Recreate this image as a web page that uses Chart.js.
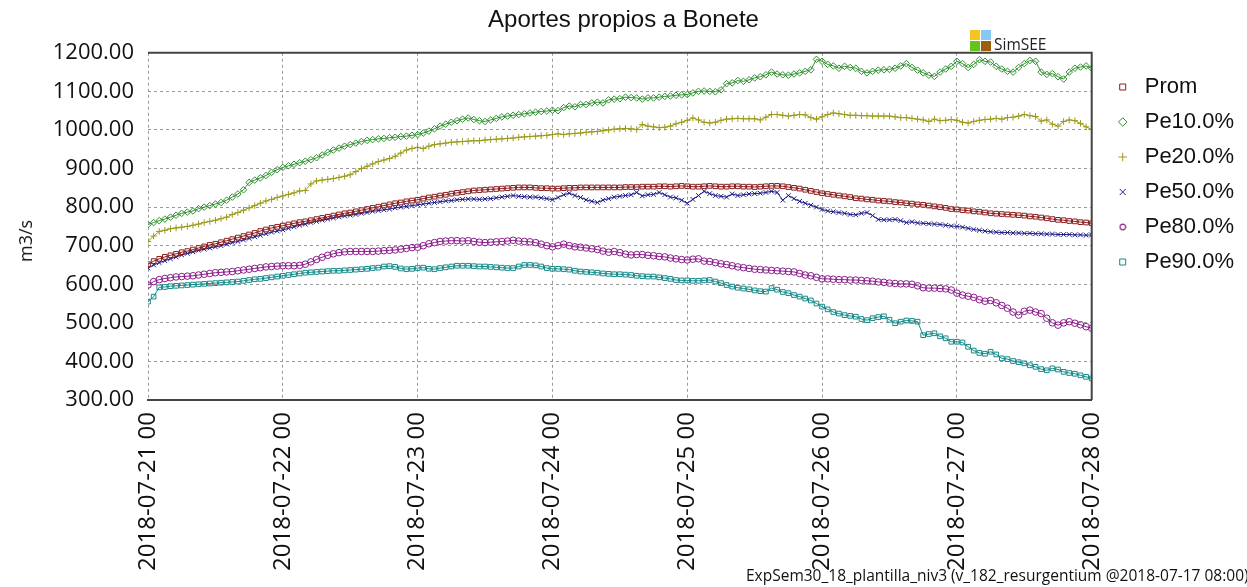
<!DOCTYPE html>
<html lang="es">
<head>
<meta charset="UTF-8">
<title>Aportes propios a Bonete</title>
<script src="https://cdn.jsdelivr.net/npm/chart.js"></script>
<style>
  html, body { margin: 0; padding: 0; background: #fff; overflow: hidden; }
  .wrap { position: relative; width: 1247px; height: 587px; font-family: 'Open Sans', sans-serif; overflow: hidden; }
  canvas { position: absolute; left: 0; top: 0; }
  .sq { position: absolute; width: 10px; height: 10px; }
  .brand { position: absolute; left: 994px; top: 34px; font-size: 15.5px; line-height: 20px; color: #222; }
  .ytitle { position: absolute; left: 25px; top: 241px; font-size: 18px; line-height: 22px; color: #111;
            white-space: nowrap; transform: translate(-50%, -50%) rotate(-90deg); }
  .footer { position: absolute; left: 746px; top: 565px; font-size: 15.5px; line-height: 20px; white-space: nowrap; color: #111; }
</style>
</head>
<body>
<div class="wrap">
  <canvas id="chart" width="1247" height="587"></canvas>
  <div class="sq" style="left:970px;top:30px;background:#f7c520"></div>
  <div class="sq" style="left:981px;top:30px;background:#86c8f2"></div>
  <div class="sq" style="left:970px;top:41px;background:#64c41c"></div>
  <div class="sq" style="left:981px;top:41px;background:#9a5e0e"></div>
  <div class="brand">SimSEE</div>
  <div class="ytitle">m3/s</div>
  <div class="footer">ExpSem30_18_plantilla_niv3 (v_182_resurgentium @2018-07-17 08:00)</div>
</div>
<script>
// tick labels of the time axis (one per day, data is hourly)
const DAY_LABELS = ['2018-07-21 00', '2018-07-22 00', '2018-07-23 00', '2018-07-24 00',
  '2018-07-25 00', '2018-07-26 00', '2018-07-27 00', '2018-07-28 00'];

const SERIES_NAMES = ['Prom', 'Pe10.0%', 'Pe20.0%', 'Pe50.0%', 'Pe80.0%', 'Pe90.0%'];

// hourly values, m3/s
const PROM = [
  652, 660, 666, 671, 675, 679, 683, 686, 690, 694, 698, 702,
  705, 709, 713, 717, 721, 725, 729, 733, 738, 742, 746, 749,
  752, 755, 758, 761, 763, 766, 769, 772, 775, 778, 781, 784,
  786, 789, 792, 795, 798, 801, 804, 807, 810, 812, 815, 817,
  819, 822, 825, 827, 830, 832, 835, 837, 839, 841, 843, 844,
  845, 846, 847, 848, 849, 850, 851, 851, 851, 850, 849, 849,
  848, 848, 849, 850, 850, 851, 851, 851, 851, 851, 851, 851,
  851, 852, 852, 852, 853, 853, 853, 854, 854, 853, 854, 855,
  854, 853, 853, 854, 855, 854, 853, 853, 854, 854, 853, 853,
  852, 853, 854, 855, 855, 854, 852, 850, 848, 845, 842, 839,
  836, 834, 832, 830, 828, 826, 823, 822, 820, 819, 817, 816,
  815, 813, 812, 810, 809, 807, 806, 804, 802, 800, 798, 795,
  794, 792, 791, 789, 788, 786, 784, 783, 782, 781, 780, 779,
  778, 776, 775, 773, 771, 769, 767, 766, 764, 763, 761, 760,
  758
];
const PE10 = [
  755, 760, 765, 769, 774, 779, 784, 787, 790, 796, 800, 804,
  808, 812, 818, 826, 834, 845, 864, 870, 876, 882, 890, 897,
  903, 907, 911, 915, 919, 923, 928, 935, 942, 948, 953, 958,
  962, 966, 970, 973, 975, 977, 978, 980, 981, 983, 984, 986,
  988, 992, 997, 1003, 1010, 1015, 1020, 1024, 1028, 1031, 1027, 1024,
  1022, 1026, 1030, 1034, 1036, 1038, 1040, 1042, 1044, 1046, 1048, 1049,
  1051, 1050, 1058, 1062, 1060, 1066, 1066, 1070, 1072, 1070, 1078, 1080,
  1081, 1085, 1084, 1083, 1080, 1083, 1083, 1085, 1087, 1088, 1090, 1091,
  1092, 1096, 1100, 1101, 1100, 1099, 1104, 1120, 1122, 1128, 1126, 1130,
  1135, 1138, 1143, 1150, 1145, 1143, 1142, 1145, 1148, 1152, 1156, 1183,
  1178, 1170, 1166, 1160, 1165, 1162, 1160, 1152, 1148, 1152, 1155, 1156,
  1157, 1160, 1166, 1172, 1162, 1155, 1148, 1142, 1139, 1150, 1158, 1165,
  1178, 1172, 1162, 1170, 1182, 1178, 1176, 1165, 1158, 1152, 1150, 1162,
  1172, 1180, 1178, 1150, 1144, 1146, 1138, 1132, 1150, 1160, 1163, 1166,
  1160
];
const PE20 = [
  711, 725, 737, 740, 744, 746, 748, 750, 753, 756, 760, 763,
  766, 770, 774, 781, 786, 792, 798, 804, 810, 816, 820, 825,
  829, 833, 837, 842, 843, 860, 868, 870, 872, 874, 877, 880,
  884, 892, 900, 906, 912, 918, 922, 926, 932, 940, 948, 952,
  955, 952, 958, 962, 964, 966, 968, 969, 970, 971, 972, 972,
  974, 975, 976, 977, 978, 979, 981, 982, 983, 984, 985, 986,
  988, 990, 988, 990, 991, 992, 994, 995, 996, 998, 1000, 1002,
  1003, 1004, 1003, 1001, 1014, 1010, 1008, 1006, 1007, 1010, 1016, 1020,
  1025, 1031, 1026, 1020, 1018, 1020, 1025, 1028, 1029, 1030, 1029, 1029,
  1029, 1026, 1033, 1040, 1040, 1038, 1036, 1038, 1040, 1039, 1032, 1028,
  1034, 1040, 1044, 1042, 1040, 1038, 1038, 1037, 1037, 1036, 1036, 1036,
  1036, 1034, 1032, 1032, 1030, 1028, 1026, 1022, 1028, 1024, 1025, 1027,
  1025, 1020, 1018, 1022, 1025, 1027, 1028, 1030, 1028, 1032, 1033, 1036,
  1040, 1037, 1035, 1023, 1026, 1015, 1010, 1022, 1026, 1024, 1017, 1008,
  1001
];
const PE50 = [
  642, 650, 656, 661, 666, 671, 676, 680, 684, 688, 691, 694,
  697, 700, 704, 708, 711, 715, 719, 723, 727, 731, 735, 738,
  741, 745, 749, 753, 756, 760, 763, 766, 769, 772, 775, 777,
  779, 781, 784, 786, 789, 791, 793, 795, 798, 800, 802, 804,
  806, 808, 810, 812, 814, 816, 817, 819, 820, 821, 821, 820,
  821, 822, 824, 826, 828, 830, 828, 827, 826, 826, 824, 822,
  819, 825, 832, 836, 830, 825, 819, 815, 812, 818, 822, 826,
  828, 830, 832, 838, 829, 832, 833, 838, 832, 826, 824, 818,
  810, 820, 830, 841, 835, 830, 828, 826, 834, 830, 832, 834,
  835, 836, 838, 841, 838, 818, 830, 822, 815, 810, 805, 800,
  794, 790, 788, 786, 784, 781, 780, 784, 786, 778, 768, 767,
  767, 768, 765, 760, 762, 759, 758, 757, 756, 755, 753, 751,
  750, 748, 745, 742, 740, 738, 736, 735, 734, 734, 733, 733,
  732, 732, 731, 731, 730, 730, 729, 729, 729, 728, 728, 727,
  728
];
const PE80 = [
  598, 607, 612, 615, 617, 619, 620, 621, 622, 624, 626, 628,
  630, 631, 632, 633, 635, 637, 639, 641, 643, 645, 646, 647,
  648, 648, 648, 649, 652, 658, 664, 670, 675, 679, 682, 684,
  685, 685, 685, 685, 685, 686, 687, 688, 689, 691, 693, 695,
  696, 700, 705, 708, 711, 712, 713, 713, 712, 713, 711, 709,
  708, 709, 710, 711, 712, 714, 712, 711, 710, 708, 704, 700,
  697, 700, 704, 700, 697, 696, 694, 692, 690, 686, 683, 685,
  682, 678, 676, 677, 677, 675, 674, 672, 671, 668, 666, 664,
  663, 665, 666, 660, 659, 656, 653, 651, 648, 645, 643, 641,
  639, 638, 637, 636, 635, 634, 633, 632, 628, 624, 622, 618,
  614, 614, 613, 612, 612, 611, 611, 610, 609, 608, 606, 605,
  603, 602, 601, 601, 600, 596, 591, 590, 590, 589, 588, 585,
  577, 572, 569, 566, 560, 556, 558, 552, 545, 538, 528, 520,
  530, 533, 528, 524, 512, 500, 494, 500, 503, 499, 495, 490,
  486
];
const PE90 = [
  555, 568, 592, 593, 595, 596, 597, 598, 599, 600, 601, 602,
  603, 604, 605, 606, 607, 609, 611, 613, 614, 616, 618, 620,
  622, 624, 626, 628, 630, 631, 632, 633, 634, 635, 635, 636,
  637, 638, 639, 640, 642, 643, 646, 647, 645, 641, 639, 640,
  642, 643, 640, 639, 642, 644, 646, 648, 648, 648, 647, 646,
  646, 645, 644, 643, 642, 642, 646, 650, 650, 649, 646, 642,
  640, 640, 639, 638, 635, 633, 632, 631, 630, 628, 627, 626,
  626, 625, 624, 622, 621, 620, 620, 618, 616, 614, 611, 610,
  610, 609, 609, 610, 611, 607, 603, 598, 594, 591, 589, 587,
  584, 582, 581, 590, 586, 580, 577, 572, 568, 563, 558, 550,
  542, 535, 528, 524, 520, 518, 516, 510, 507, 512, 515, 517,
  508, 499, 503, 506, 505, 503, 468, 471, 473, 465, 460, 451,
  451, 449, 438, 428, 422, 420, 425, 418, 408, 406, 401, 398,
  395, 390, 386, 380, 377, 382, 379, 373, 370, 368, 364, 360,
  356
];

const SERIES_VALUES = [PROM, PE10, PE20, PE50, PE80, PE90];
const SERIES_COLORS = ['#8b1c1c', '#2f8f2f', '#9c9a1c', '#1c1c86', '#8c1c8c', '#168a8a'];
const SERIES_MARKERS = ['rect', 'rectRot', 'cross', 'crossRot', 'circle', 'rect'];

// small hollow circle for the legend (the built-in one comes out too big)
function smallCircle(color) {
  const c = document.createElement('canvas');
  c.width = 8;
  c.height = 8;
  const g = c.getContext('2d');
  g.strokeStyle = color;
  g.lineWidth = 1.2;
  g.beginPath();
  g.arc(4, 4, 2.8, 0, Math.PI * 2);
  g.stroke();
  return c;
}

// solid frame on top and right of the plot
const framePlugin = {
  id: 'frame',
  afterDraw(chart) {
    const { ctx, chartArea: a } = chart;
    ctx.save();
    ctx.strokeStyle = '#444';
    ctx.lineWidth = 2;
    ctx.beginPath();
    ctx.moveTo(a.left, a.top);
    ctx.lineTo(a.right, a.top);
    ctx.lineTo(a.right, a.bottom);
    ctx.stroke();
    ctx.restore();
  }
};

// nudge the legend block down/right to where the original sits
const legendShift = {
  id: 'legendShift',
  afterLayout(chart) {
    chart.legend.left += 7;
    chart.legend.top += 63;
  }
};

const datasets = SERIES_NAMES.map((name, k) => ({
  label: name,
  data: SERIES_VALUES[k].map((v, i) => ({ x: i, y: v })),
  borderColor: SERIES_COLORS[k],
  backgroundColor: 'rgba(255,255,255,0)',
  borderWidth: 1,
  pointStyle: SERIES_MARKERS[k],
  pointRadius: 3.3,
  pointBorderWidth: 1,
  pointBorderColor: SERIES_COLORS[k],
  pointBackgroundColor: 'rgba(255,255,255,0)',
  tension: 0
}));

new Chart(document.getElementById('chart').getContext('2d'), {
  type: 'line',
  data: { datasets },
  options: {
    responsive: false,
    animation: false,
    layout: { padding: { left: 10, right: 10, top: 0, bottom: 0 } },
    font: { family: "'Open Sans', sans-serif" },
    plugins: {
      title: {
        display: true,
        text: 'Aportes propios a Bonete',
        color: '#111',
        font: { size: 24, weight: 'normal' },
        padding: { top: 6, bottom: 18 }
      },
      legend: {
        position: 'right',
        align: 'start',
        labels: {
          usePointStyle: true,
          boxWidth: 22,
          boxHeight: 6,
          padding: 13,
          color: '#111',
          font: { size: 22 },
          generateLabels(chart) {
            const items = Chart.defaults.plugins.legend.labels.generateLabels(chart);
            items.forEach(it => {
              if (it.pointStyle === 'circle') it.pointStyle = smallCircle(it.strokeStyle);
            });
            return items;
          }
        }
      },
      tooltip: { enabled: false }
    },
    scales: {
      x: {
        type: 'linear',
        min: 0,
        max: 168,
        afterFit(s) { s.height = 187; },
        ticks: {
          stepSize: 24,
          autoSkip: false,
          maxRotation: 90,
          minRotation: 90,
          padding: 12,
          color: '#111',
          font: { size: 24 },
          callback: v => DAY_LABELS[v / 24]
        },
        grid: { color: '#999', drawTicks: false },
        border: { display: true, color: '#444', width: 2, dash: [3, 3] }
      },
      y: {
        min: 300,
        max: 1200,
        afterFit(s) { s.width = 138; },
        ticks: {
          stepSize: 100,
          padding: 14,
          color: '#111',
          font: { size: 22 },
          callback: v => v.toFixed(2)
        },
        grid: { color: '#999', drawTicks: false },
        border: { display: false, dash: [3, 3] }
      }
    }
  },
  plugins: [framePlugin, legendShift]
});
</script>
</body>
</html>
